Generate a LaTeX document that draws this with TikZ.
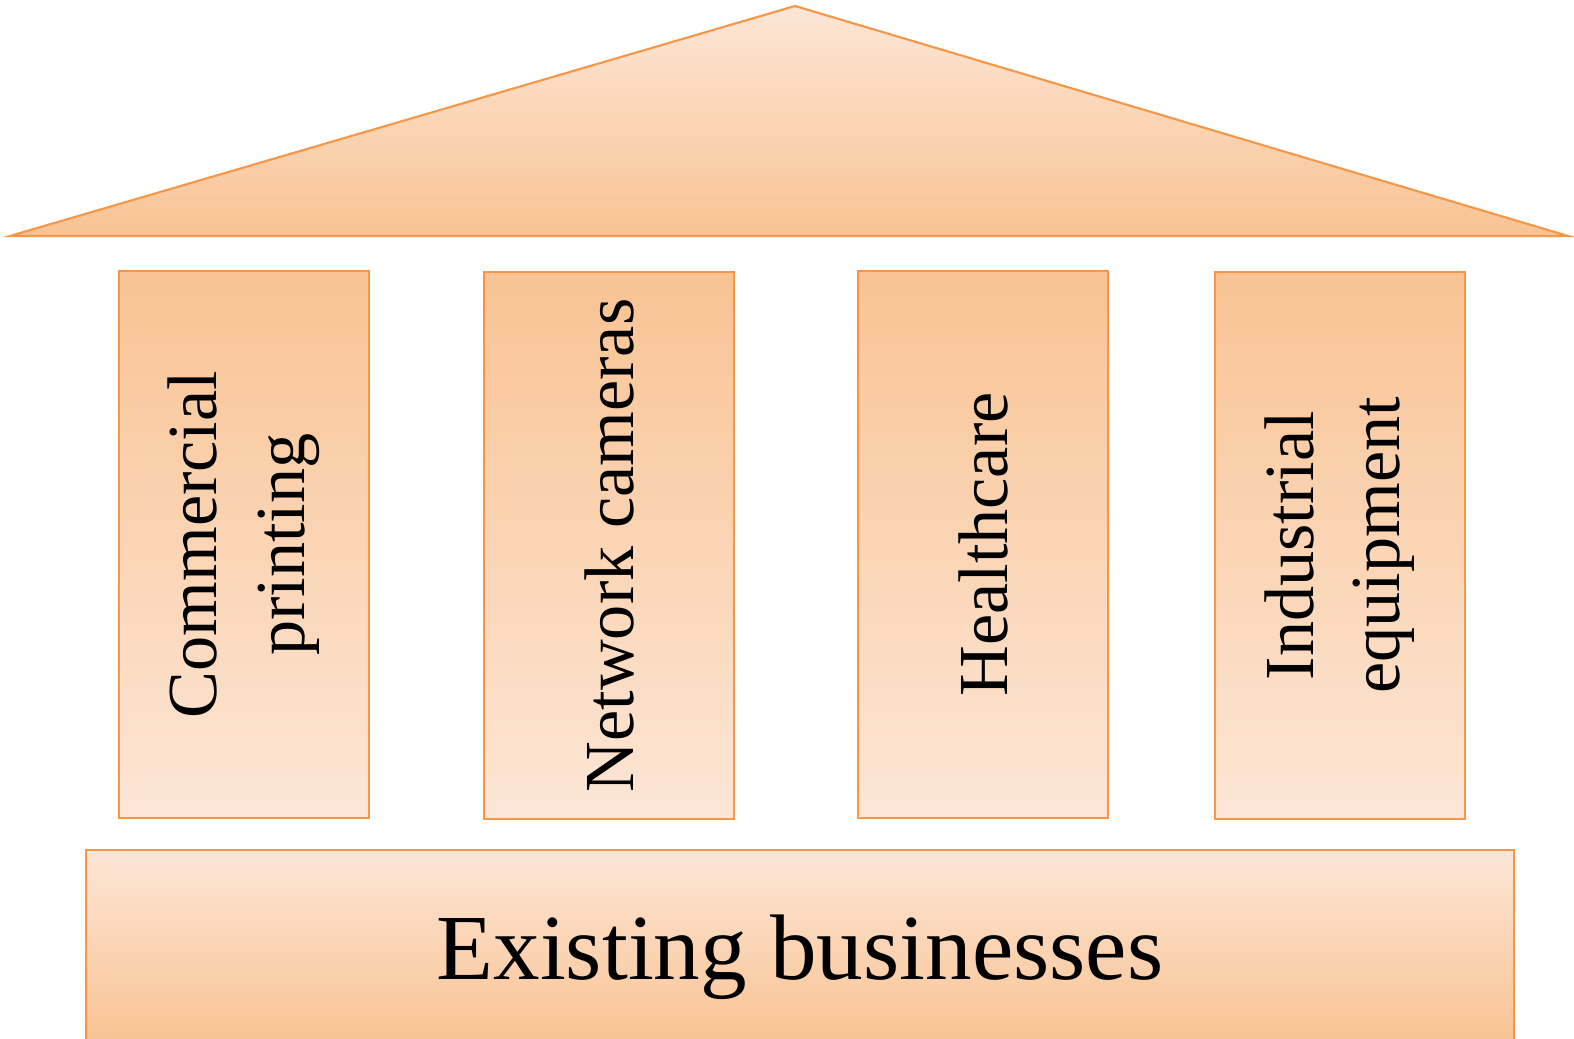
\documentclass[tikz,border=0pt]{standalone}
\usepackage{fontspec}
\setmainfont{Liberation Serif}
\usepackage{xcolor}
\usepackage{graphicx}
\usepackage{tikz}
\usetikzlibrary{positioning}
\definecolor{pillarline}{HTML}{F79646}
\definecolor{pillardark}{HTML}{F9C393}
\definecolor{pillarlight}{HTML}{FCE6D6}
\tikzset{>=latex}
\tikzstyle{pillar} = [draw = pillarline, line width = 1.2pt, top color = pillardark, bottom color = pillarlight, minimum width = 5cm, minimum height = 10.94cm, inner sep = 0]
\tikzstyle{basebox} = [draw = pillarline, line width = 1.2pt, top color = pillarlight, bottom color = pillardark, minimum width = 28.56cm, minimum height = 3.82cm, inner sep = 0]

\begin{document}
\begin{tikzpicture}[x = 0.02cm, y = 0.02cm]
\useasboundingbox (0, 0) rectangle (1574, 1038);
\coordinate (apex) at (795, 1032);
\coordinate (eaveL) at (10, 802);
\coordinate (eaveR) at (1568, 802);
\draw [draw = pillarline, line width = 1.2pt, line join = miter, top color = pillarlight, bottom color = pillardark] (apex) -- (eaveR) -- (eaveL) -- cycle;
\node [pillar, font = \fontsize{40}{46}\selectfont] (P1) at (244, 493.5) {\rotatebox{90}{\begin{tabular}{@{}c@{}}Commercial\\[4pt] printing\end{tabular}}};
\node [pillar, font = \fontsize{40}{46}\selectfont] (P2) at (609, 492.5) {\rotatebox{90}{Network cameras}};
\node [pillar, font = \fontsize{40}{46}\selectfont] (P3) at (983, 493.5) {\rotatebox{90}{Healthcare}};
\node [pillar, font = \fontsize{40}{46}\selectfont] (P4) at (1340, 492.5) {\rotatebox{90}{\begin{tabular}{@{}c@{}}Industrial\\[3pt] equipment\end{tabular}}};
\node [basebox, font = \fontsize{53}{60}\selectfont, text height = 50pt] (base) at (800, 92.5) {Existing businesses};
\end{tikzpicture}
\end{document}
